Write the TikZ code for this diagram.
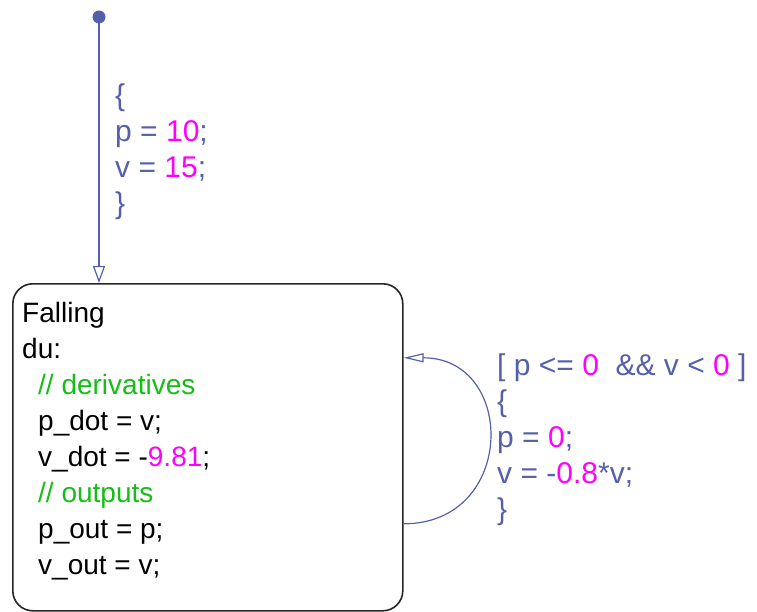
\documentclass[tikz,border=0pt]{standalone}
\usepackage{fontspec}
\setmainfont{Liberation Sans}
\usetikzlibrary{arrows.meta}
\definecolor{sfblue}{RGB}{85,95,170}
\definecolor{sfnum}{RGB}{255,0,255}
\definecolor{sfnote}{RGB}{20,190,20}
\newcommand{\sfval}[1]{\textcolor{sfnum}{#1}}
\newcommand{\sfcom}[1]{\textcolor{sfnote}{#1}}
\begin{document}
\begin{tikzpicture}[x=1pt,y=-1pt,
  trans/.style={sfblue,line width=1.2pt,-{Triangle[open,length=17pt,width=12pt]}},
  lbl/.style={anchor=north west,inner sep=0pt,align=left,text=sfblue,font=\fontsize{30}{36}\selectfont},
  statebox/.style={draw=black!85,line width=1.6pt,rounded corners=20pt,anchor=north west,inner sep=0pt,minimum width=390pt,minimum height=327pt}]
  \useasboundingbox (0,0) rectangle (757,612);
  % state
  \node[statebox] (falling) at (12,283) {};
  \node[anchor=north west,inner sep=0pt,align=left,font=\fontsize{28}{36}\selectfont] (fallingtxt) at (22,302)
    {Falling\\du:\\
     \hspace*{16pt}\sfcom{// derivatives}\\
     \hspace*{16pt}p\_dot = v;\\
     \hspace*{16pt}v\_dot = -\sfval{9.81};\\
     \hspace*{16pt}\sfcom{// outputs}\\
     \hspace*{16pt}p\_out = p;\\
     \hspace*{16pt}v\_out = v;};
  % default transition
  \coordinate (init) at (99,17);
  \fill[sfblue] (init) circle (6.5pt);
  \draw[trans] (init) -- (init |- falling.north);
  \node[lbl] (initlbl) at (115,84) {\{\\p = \sfval{10};\\v = \sfval{15};\\\}};
  % bounce
  \coordinate (loopout) at ([yshift=-76.5pt]falling.east);
  \coordinate (loopin) at ([yshift=89.5pt]falling.east);
  \draw[trans,-{Triangle[open,length=20pt,width=9pt]}] (loopout) .. controls +(113,0) and +(113,0) .. (loopin);
  \node[lbl] (looplbl) at (497,354)
    {[ p <= \sfval{0} \ \&\& v < \sfval{0} ]\\\{\\p = \sfval{0};\\v = -\sfval{0.8}*v;\\\}};
\end{tikzpicture}
\end{document}
